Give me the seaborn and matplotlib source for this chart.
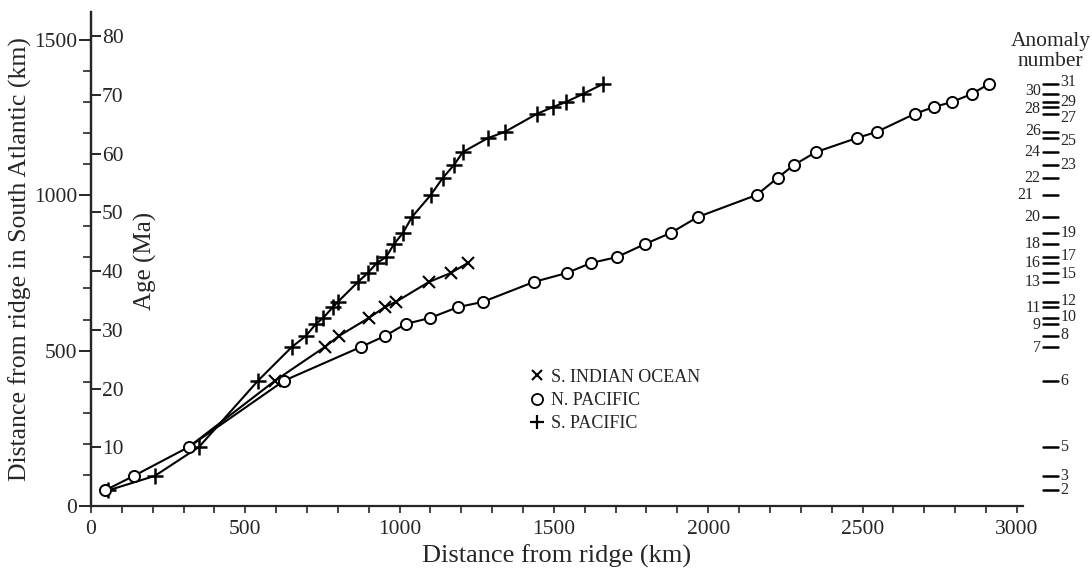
import numpy as np
import pandas as pd
import matplotlib
matplotlib.use('Agg')
import matplotlib.pyplot as plt
from matplotlib.lines import Line2D
from matplotlib.ticker import MultipleLocator
import seaborn as sns

# Anomaly positions (distance from ridge in the South Atlantic, km)
anomaly_numbers = [2, 3, 5, 6, 7, 8, 9, 10, 11, 12, 13, 15, 16, 17, 18, 19, 20,
                   21, 22, 23, 24, 25, 26, 27, 28, 29, 30, 31]
anomaly_dist = [50, 97, 190, 403, 512, 547, 586, 605, 640, 657, 721, 750, 782,
                801, 843, 879, 930, 1001, 1056, 1097, 1139, 1184, 1204, 1262,
                1284, 1300, 1326, 1358]
left_labels = [30, 28, 26, 24, 22, 21, 20, 18, 16, 13, 11, 9, 7]
# small nudges (km) so crowded labels don't collide
label_nudge = {31: 8, 30: 8, 29: 0, 28: -5, 27: -14, 26: 4, 25: -8, 17: 5, 15: -3,
               12: 4, 11: -4, 10: 3, 9: -3, 8: 4, 7: -4}

# distance from ridge (km) in each ocean, at the same anomalies
s_pacific_anoms = anomaly_numbers
s_pacific_x = [55, 207, 350, 541, 651, 696, 729, 752, 784, 800, 865, 897, 926,
               956, 982, 1011, 1040, 1101, 1140, 1176, 1205, 1286, 1341, 1445,
               1497, 1539, 1594, 1659]
n_pacific_anoms = anomaly_numbers
n_pacific_x = [45, 139, 317, 625, 875, 952, 1020, 1098, 1189, 1270, 1435, 1542,
               1620, 1704, 1795, 1879, 1966, 2157, 2225, 2277, 2349, 2481, 2546,
               2669, 2731, 2789, 2854, 2909]
s_indian_anoms = [5, 6, 7, 8, 10, 11, 12, 13, 15, 16]
s_indian_x = [317, 596, 758, 803, 900, 952, 988, 1095, 1166, 1221]

km_per_ma = 18.9
ymax = 1590

sns.set_style('ticks')
plt.rcParams['font.family'] = ['Liberation Serif', 'DejaVu Serif']

dist_of = dict(zip(anomaly_numbers, anomaly_dist))
def frame(anoms, xs, name):
    return pd.DataFrame({'x': xs, 'y': [dist_of[a] for a in anoms], 'ocean': name})

sp = frame(s_pacific_anoms, s_pacific_x, 'S. PACIFIC')
npac = frame(n_pacific_anoms, n_pacific_x, 'N. PACIFIC')
si = frame(s_indian_anoms, s_indian_x, 'S. INDIAN OCEAN')

fig = plt.figure(figsize=(10.92, 5.69), dpi=100)
ax = fig.add_axes([0.0833, 0.1107, 0.8535, 0.8683])

sns.lineplot(data=si, x='x', y='y', sort=False, color='black', lw=1.5,
             marker='x', markersize=8, markeredgewidth=1.5, markeredgecolor='black',
             markevery=list(range(1, len(si))), ax=ax, zorder=3)
sns.lineplot(data=sp, x='x', y='y', sort=False, color='black', lw=1.5,
             marker='+', markersize=11, markeredgewidth=1.8, markeredgecolor='black',
             ax=ax, zorder=3)
sns.lineplot(data=npac, x='x', y='y', sort=False, color='black', lw=1.5,
             marker='o', markersize=8, markerfacecolor='white', markeredgecolor='black',
             markeredgewidth=1.4, ax=ax, zorder=4)

ax.set_xlim(0, 3020)
ax.set_ylim(0, ymax)
sns.despine(ax=ax)
ax.spines['left'].set_linewidth(1.6)
ax.spines['bottom'].set_linewidth(1.6)

ax.xaxis.set_major_locator(MultipleLocator(500))
ax.xaxis.set_minor_locator(MultipleLocator(100))
ax.yaxis.set_major_locator(MultipleLocator(500))
ax.yaxis.set_minor_locator(MultipleLocator(100))
ax.tick_params(axis='x', which='both', direction='out', length=5, width=1.2,
               labelsize=15.5, pad=5)
ax.tick_params(axis='y', which='major', direction='out', length=9, width=1.4,
               labelsize=15.5, pad=1)
ax.tick_params(axis='y', which='minor', direction='out', length=6, width=1.2)
ax.set_xlabel('Distance from ridge (km)', fontsize=19, labelpad=4)
ax.set_ylabel('Distance from ridge in South Atlantic (km)', fontsize=18.5, labelpad=1)

# age axis on the same spine, ticks to the right
ax2 = ax.twinx()
ax2.set_ylim(0, ymax / km_per_ma)
for s in ['top', 'left', 'bottom']:
    ax2.spines[s].set_visible(False)
ax2.spines['right'].set_position(('axes', 0))
ax2.spines['right'].set_linewidth(1.6)
ax2.set_yticks(np.arange(10, 90, 10))
ax2.tick_params(axis='y', direction='out', length=7, width=1.4, labelsize=15.5, pad=1)
ax2.text(0.058, 0.497, 'Age (Ma)', transform=ax.transAxes, rotation=90,
         fontsize=18, ha='center', va='center')

# anomaly number scale
tr = ax.get_yaxis_transform()
for num, d in zip(anomaly_numbers, anomaly_dist):
    ax.plot([1.0215, 1.0376], [d, d], color='black', lw=1.8, transform=tr,
            clip_on=False)
    yl = d + label_nudge.get(num, 0)
    if num in left_labels:
        xl = 1.011 if num == 21 else 1.019
        ax.text(xl, yl, str(num), transform=tr, ha='right', va='center', fontsize=11.5)
    else:
        ax.text(1.040, yl, str(num), transform=tr, ha='left', va='center', fontsize=11.5)
fig.text(0.962, 0.91, 'Anomaly\nnumber', ha='center', va='center', fontsize=15.5,
         linespacing=1.05)

handles = [Line2D([], [], ls='none', marker='x', color='black', markersize=7, markeredgewidth=1.5),
           Line2D([], [], ls='none', marker='o', markerfacecolor='white', markeredgecolor='black',
                  markersize=8, markeredgewidth=1.3),
           Line2D([], [], ls='none', marker='+', color='black', markersize=10, markeredgewidth=1.6)]
ax.legend(handles, ['S. INDIAN OCEAN', 'N. PACIFIC', 'S. PACIFIC'],
          loc='upper left', bbox_to_anchor=(0.485, 0.352), bbox_transform=fig.transFigure,
          frameon=False, fontsize=13, handlelength=0.8, handletextpad=0.4,
          labelspacing=0.35, borderpad=0, borderaxespad=0)

fig.savefig('out.png', dpi=100)
